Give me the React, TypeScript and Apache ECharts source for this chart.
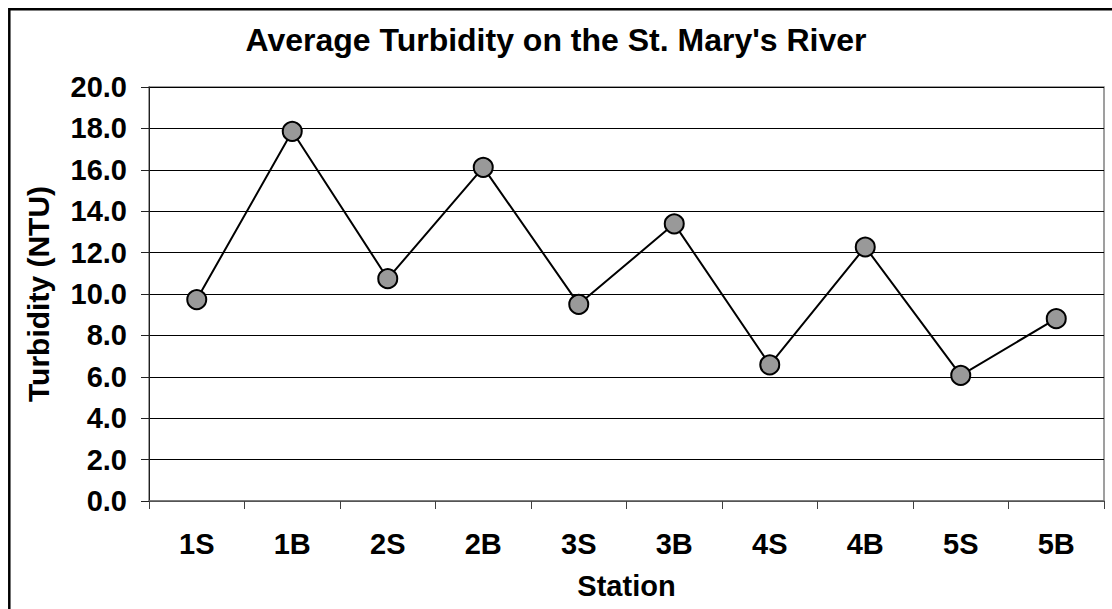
import React, { useEffect, useRef } from "react";
import * as echarts from "echarts";

const titleText = "Average Turbidity on the St. Mary's River";
const stations = ["1S", "1B", "2S", "2B", "3S", "3B", "4S", "4B", "5S", "5B"];
const turbidity = [9.73, 17.86, 10.74, 16.12, 9.5, 13.39, 6.58, 12.27, 6.07, 8.81];
const yMin = 0;
const yMax = 20;
const yStep = 2;
const xName = "Station";
const yName = "Turbidity (NTU)";

const FONT = "'Liberation Sans', Arial, sans-serif";

export default function App() {
  const ref = useRef<HTMLDivElement>(null);
  useEffect(() => {
    if (!ref.current) return;
    const chart = echarts.init(ref.current, undefined, { renderer: "svg" });
    chart.setOption({
      animation: false,
      backgroundColor: "#ffffff",
      title: {
        text: titleText,
        left: "center",
        top: 24,
        padding: 0,
        textStyle: { fontFamily: FONT, fontWeight: "bold", fontSize: 32, color: "#000" },
      },
      graphic: [
        {
          type: "rect",
          shape: { x: 9.3, y: 9.3, width: 1300, height: 800 },
          style: { fill: "none", stroke: "#000", lineWidth: 2.5 },
          silent: true,
        },
      ],
      grid: {
        left: 149,
        top: 87,
        right: 8,
        bottom: 108,
        show: true,
        borderColor: "#808080",
        borderWidth: 1.5,
        backgroundColor: "transparent",
      },
      xAxis: {
        type: "category",
        data: stations,
        boundaryGap: true,
        name: xName,
        nameLocation: "middle",
        nameGap: 70,
        nameTextStyle: { fontFamily: FONT, fontWeight: "bold", fontSize: 29, color: "#000" },
        axisLine: { show: true, lineStyle: { color: "#707070", width: 1.5 } },
        axisTick: { show: true, length: 8, alignWithLabel: false, lineStyle: { color: "#404040", width: 1 } },
        axisLabel: { fontFamily: FONT, fontWeight: "bold", fontSize: 29, color: "#000", margin: 28, interval: 0 },
        splitLine: { show: false },
      },
      yAxis: {
        type: "value",
        min: yMin,
        max: yMax,
        interval: yStep,
        name: yName,
        nameLocation: "middle",
        nameRotate: 90,
        nameGap: 96,
        nameTextStyle: { fontFamily: FONT, fontWeight: "bold", fontSize: 30, color: "#000" },
        axisLine: { show: true, lineStyle: { color: "#202020", width: 1 } },
        axisTick: { show: true, length: 8, lineStyle: { color: "#202020", width: 1 } },
        axisLabel: {
          fontFamily: FONT,
          fontWeight: "bold",
          fontSize: 29,
          color: "#000",
          margin: 22,
          formatter: (v: number) => v.toFixed(1),
        },
        splitLine: { show: true, lineStyle: { color: "#000", width: 1 } },
      },
      series: [
        {
          type: "line",
          data: turbidity,
          symbol: "circle",
          symbolSize: 19,
          lineStyle: { color: "#000", width: 2 },
          itemStyle: { color: "#999999", borderColor: "#000", borderWidth: 2 },
          z: 3,
        },
      ],
    });
    return () => chart.dispose();
  }, []);
  return (
    <div
      ref={ref}
      style={{ position: "absolute", left: 0, top: 0, width: 1112, height: 609 }}
    />
  );
}
